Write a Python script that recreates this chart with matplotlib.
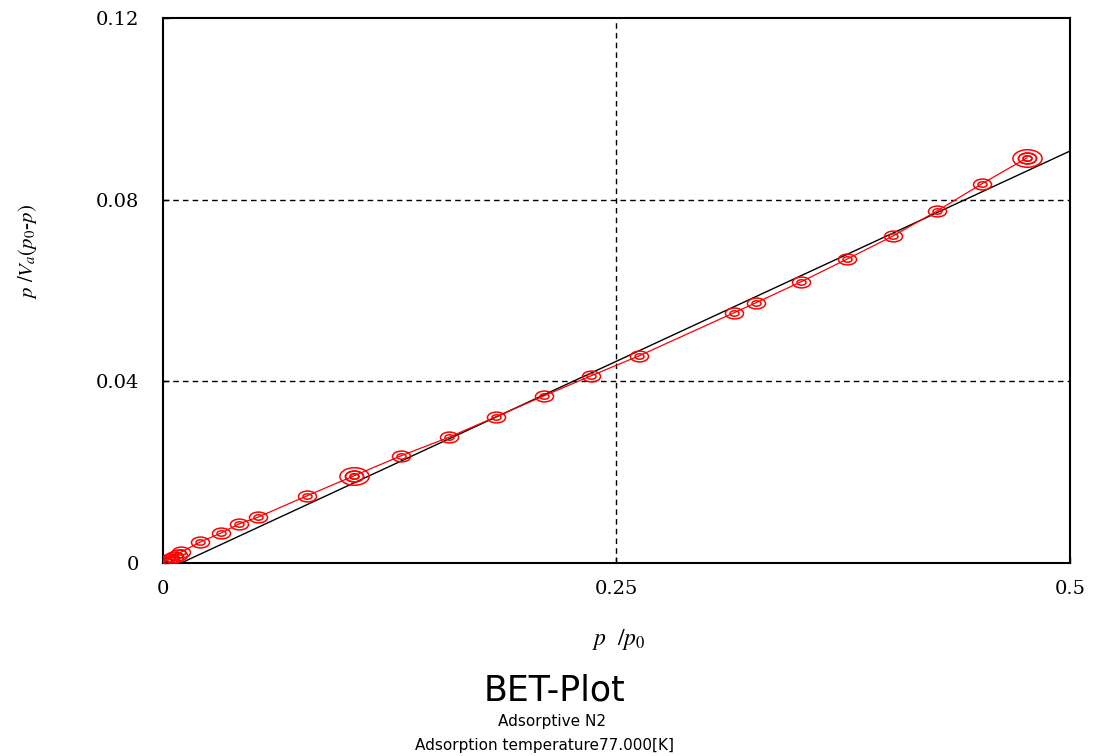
import matplotlib
matplotlib.use("Agg")
import matplotlib.pyplot as plt
import numpy as np
from matplotlib.path import Path
from matplotlib.transforms import Affine2D

# relative pressure p/p0 and BET transform p/Va(p0-p)
rel_pressure = [0.0005, 0.0020, 0.0040, 0.0060, 0.0080, 0.0100,
                0.0204, 0.0320, 0.0419, 0.0524, 0.0794, 0.1053,
                0.1312, 0.1577, 0.1836, 0.2100, 0.2359, 0.2624,
                0.3148, 0.3269, 0.3517, 0.3771, 0.4024, 0.4267,
                0.4515, 0.4763]
bet_value = [0.0001, 0.0005, 0.0009, 0.0013, 0.0018, 0.0024,
             0.0046, 0.0066, 0.0086, 0.0101, 0.0148, 0.0192,
             0.0236, 0.0277, 0.0322, 0.0368, 0.0412, 0.0456,
             0.0551, 0.0573, 0.0619, 0.0669, 0.0720, 0.0775,
             0.0835, 0.0892]

# linear BET fit
fit_slope = 0.1851
fit_intercept = -0.00185

x_ticks = [0, 0.25, 0.5]
x_tick_labels = ["0", "0.25", "0.5"]
y_ticks = [0, 0.04, 0.08, 0.12]
y_tick_labels = ["0", "0.04", "0.08", "0.12"]

title = "BET-Plot"
sub1 = "Adsorptive N2"
sub2 = "Adsorption temperature77.000[K]"

# points drawn with an extra ring (range end points)
big_points = [11, 25]


def ellipse_rings(scales):
    circ = Path.unit_circle()
    paths = [circ.transformed(Affine2D().scale(s, s * 0.6)) for s in scales]
    return Path.make_compound_path(*paths)


plt.rcParams['mathtext.fontset'] = 'stix'

fig = plt.figure(figsize=(10.94, 7.56), dpi=100)
ax = fig.add_axes([0.149, 0.2553, 0.829, 0.7209])

ax.axhline(0.04, color='black', lw=1, ls=(0, (4, 3)), zorder=1)
ax.axhline(0.08, color='black', lw=1, ls=(0, (4, 3)), zorder=1)
ax.axvline(0.25, color='black', lw=1, ls=(0, (4, 3)), zorder=1)

x0 = -fit_intercept / fit_slope
fx = np.array([x0, 0.5])
ax.plot(fx, fit_slope * fx + fit_intercept, color='black', lw=1, zorder=2)

ax.plot(rel_pressure, bet_value, color='red', lw=0.9, zorder=3)
ax.plot(rel_pressure, bet_value, ls='none', marker=ellipse_rings([1.0, 0.5]),
        ms=13, mfc='none', mec='red', mew=1.1, zorder=4)
bx = [rel_pressure[i] for i in big_points]
by = [bet_value[i] for i in big_points]
ax.plot(bx, by, ls='none', marker=ellipse_rings([1.0, 0.62, 0.3]),
        ms=21, mfc='none', mec='red', mew=1.1, zorder=4)

ax.set_xlim(0, 0.5)
ax.set_ylim(0, 0.12)
ax.set_xticks(x_ticks)
ax.set_xticklabels(x_tick_labels)
ax.set_yticks(y_ticks)
ax.set_yticklabels(y_tick_labels)
ax.tick_params(direction='in', length=4, width=1)
ax.tick_params(axis='y', pad=17)
ax.tick_params(axis='x', pad=12)
for lab in ax.get_xticklabels() + ax.get_yticklabels():
    lab.set_fontfamily('DejaVu Serif')
    lab.set_fontsize(14)
for sp in ax.spines.values():
    sp.set_linewidth(1.5)

ax.set_xlabel(r'$p\ \ /p_0$', fontsize=17)
ax.xaxis.set_label_coords(0.502, -0.117)
ax.set_ylabel(r'$p\ /V_a(p_0$-$p)$', fontsize=15,
              family='Liberation Serif', style='italic')
ax.yaxis.set_label_coords(-0.137, 0.571)

fig.text(0.507, 0.087, title, ha='center', va='center', fontsize=25,
         family='DejaVu Sans')
fig.text(0.505, 0.045, sub1, ha='center', va='center', fontsize=11,
         family='DejaVu Sans')
fig.text(0.498, 0.014, sub2, ha='center', va='center', fontsize=11,
         family='DejaVu Sans')

fig.savefig('out.png', dpi=100)
